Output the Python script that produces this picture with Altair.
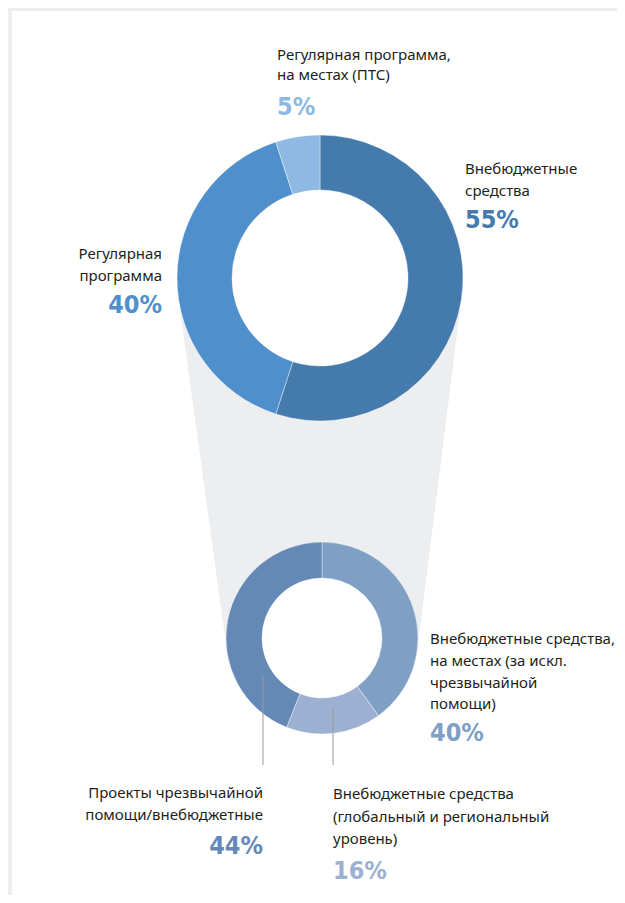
import math
import altair as alt
import pandas as pd

# ---------------- data ----------------
top_categories = ["Внебюджетные средства", "Регулярная программа",
                  "Регулярная программа, на местах (ПТС)"]
top_values = [55, 40, 5]
top_label_lines = [["Внебюджетные", "средства"],
                   ["Регулярная", "программа"],
                   ["Регулярная программа,", "на местах (ПТС)"]]

bottom_categories = ["Внебюджетные средства, на местах (за искл. чрезвычайной помощи)",
                     "Внебюджетные средства (глобальный и региональный уровень)",
                     "Проекты чрезвычайной помощи/внебюджетные"]
bottom_values = [40, 16, 44]
bottom_label_lines = [["Внебюджетные средства,", "на местах (за искл.", "чрезвычайной", "помощи)"],
                      ["Внебюджетные средства", "(глобальный и региональный", "уровень)"],
                      ["Проекты чрезвычайной", "помощи/внебюджетные"]]

# ---------------- style / layout ----------------
top_colors = ["#447bac", "#4f8fcc", "#8db9e2"]
bottom_colors = ["#809fc5", "#9cb0d2", "#6589b6"]
GREY = "#edeef0"
TEXT = "#231f20"
LABEL_FONT = "Noto Sans"
PCT_FONT = "'DejaVu Sans Condensed', Roboto, sans-serif"

W, H = 609, 887
OFF = 8  # page margin


def P(v):
    return v - OFF


# donut geometry (page coordinates)
T_CX, T_CY, T_RO, T_RI = 320, 278, 143, 88
B_CX, B_CY, B_RO, B_RI = 322, 638, 96, 60

# label layout: (x, first label baseline, pct baseline, align, line height)
top_layout = [(465, 174, 228, "left", 22),
              (162, 259, 313, "right", 22),
              (277, 60, 115, "left", 20)]
bottom_layout = [(430, 644, 741, "left", 21.8),
                 (333, 799, 879, "left", 22.5),
                 (263, 798, 854, "right", 22)]

# leader lines (page coords): x, y_start, y_end
leaders = [(263, 675, 765), (333, 708, 765)]

xs = alt.Scale(domain=[0, W], range=[0, W])
ys = alt.Scale(domain=[0, H], range=[0, H])

# ---------------- background ----------------
panel = alt.Chart(alt.Data(values=[{"a": 1}])).mark_rect(color="white").encode(
    x=alt.value(P(12)), x2=alt.value(W), y=alt.value(P(11)), y2=alt.value(H))

# funnel (external tangents of the two outer circles)
D = B_CY - T_CY
sin_a = (T_RO - B_RO) / D
cos_a = math.sqrt(1 - sin_a ** 2)
ty = T_CY + T_RO * sin_a
by = B_CY + B_RO * sin_a
funnel_df = pd.DataFrame({
    "fy": [P(ty), P(by)],
    "fl": [P(T_CX - T_RO * cos_a), P(B_CX - B_RO * cos_a)],
    "fr": [P(T_CX + T_RO * cos_a), P(B_CX + B_RO * cos_a)],
})
funnel = alt.Chart(funnel_df).mark_area(orient="horizontal", color=GREY, opacity=1).encode(
    y=alt.Y("fy:Q", scale=ys, axis=None),
    x=alt.X("fl:Q", scale=xs, axis=None),
    x2="fr:Q",
)


def donut(cats, vals, colors, cx, cy, ro, ri):
    df = pd.DataFrame({"cat": cats, "value": vals, "idx": list(range(len(cats)))})
    hole = alt.Chart(alt.Data(values=[{"a": 1}])).mark_arc(
        color="white", theta=0, theta2=2 * math.pi, outerRadius=ri, innerRadius=0
    ).encode(x=alt.value(P(cx)), y=alt.value(P(cy)))
    ring = alt.Chart(df).mark_arc(outerRadius=ro, innerRadius=ri,
                                  stroke="white", strokeWidth=0.4).encode(
        theta=alt.Theta("value:Q", stack=True),
        color=alt.Color("cat:N", scale=alt.Scale(domain=cats, range=colors), legend=None),
        order=alt.Order("idx:Q"),
        x=alt.value(P(cx)), y=alt.value(P(cy)),
    )
    return [hole, ring]


def labels(lines_list, vals, colors, layout):
    out = []
    for lines, v, col, (x, yl, yp, al, lh) in zip(lines_list, vals, colors, layout):
        lab = alt.Chart(alt.Data(values=[{"t": "\n".join(lines)}])).mark_text(
            align=al, baseline="alphabetic", font=LABEL_FONT, fontSize=15,
            color=TEXT, lineBreak="\n", lineHeight=lh, x=P(x), y=P(yl)
        ).encode(text="t:N")
        pct = alt.Chart(alt.Data(values=[{"t": f"{v}%"}])).mark_text(
            align=al, baseline="alphabetic", font=PCT_FONT, fontSize=25,
            fontWeight="bold", color=col, x=P(x), y=P(yp)
        ).encode(text="t:N")
        out += [lab, pct]
    return out


rules = []
for (lx, y1, y2) in leaders:
    rules.append(alt.Chart(alt.Data(values=[{"a": 1}])).mark_rule(
        color="#9a9a9a", strokeWidth=1).encode(
        x=alt.value(P(lx)), y=alt.value(P(y1)), y2=alt.value(P(y2))))

layers = [panel, funnel]
layers += donut(top_categories, top_values, top_colors, T_CX, T_CY, T_RO, T_RI)
layers += donut(bottom_categories, bottom_values, bottom_colors, B_CX, B_CY, B_RO, B_RI)
layers += rules
layers += labels(top_label_lines, top_values, top_colors, top_layout)
layers += labels(bottom_label_lines, bottom_values, bottom_colors, bottom_layout)

chart = alt.layer(*layers).resolve_scale(
    theta="independent", color="independent"
).properties(
    width=W, height=H, autosize=alt.AutoSizeParams(type="none"), padding=0,
    background=GREY
).configure_view(strokeWidth=0)

chart.save("out.html", embed_options={"renderer": "svg", "actions": False})
